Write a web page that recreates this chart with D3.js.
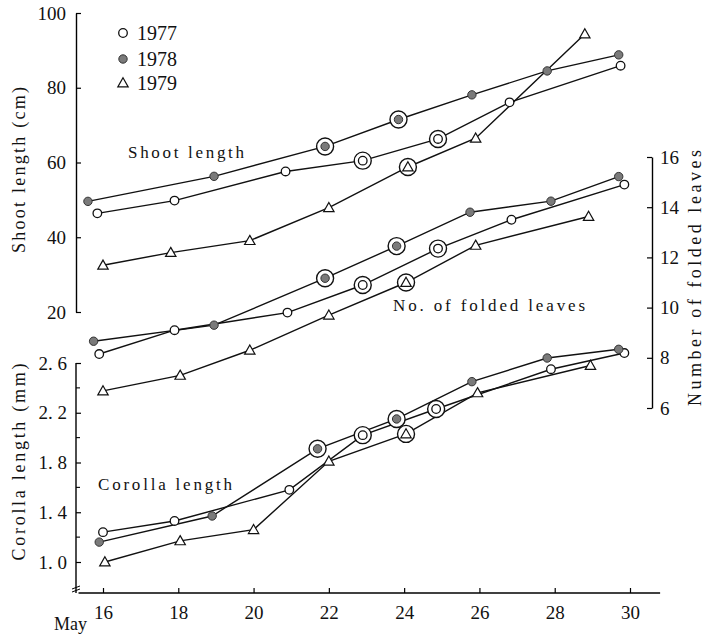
<!DOCTYPE html>
<html><head><meta charset="utf-8">
<script src="https://cdn.jsdelivr.net/npm/d3@7"></script>
<style>
body{margin:0;background:#fff;}
svg text{font-family:"Liberation Serif","Times New Roman",Times,"DejaVu Serif",serif !important;}
</style></head>
<body><svg id="c" width="708" height="637"></svg>
<script>
// ---- data ----
const years = ["1977", "1978", "1979"];
const xTicks = [16, 18, 20, 22, 24, 26, 28, 30];
const shootTicks = [20, 40, 60, 80, 100];
const leavesTicks = [6, 8, 10, 12, 14, 16];
const corollaTicks = [1.0, 1.4, 1.8, 2.2, 2.6];
const corollaMinorTicks = [1.2, 1.6, 2.0, 2.4];

// Shoot length (cm)
const shootDays1977 = [15.85, 17.9, 20.85, 22.9, 24.9, 26.8, 29.75];
const shoot1977 = [46.4, 49.8, 57.6, 60.5, 66.3, 76.1, 85.9];
const shootDays1978 = [15.6, 18.95, 21.9, 23.85, 25.8, 27.8, 29.7];
const shoot1978 = [49.6, 56.3, 64.3, 71.5, 78.1, 84.5, 88.8];
const shootDays1979 = [16.0, 17.8, 19.9, 22.0, 24.1, 25.9, 28.8];
const shoot1979 = [32.5, 35.9, 39.1, 47.9, 58.8, 66.5, 94.4];

// Number of folded leaves
const leavesDays1977 = [15.9, 17.9, 20.9, 22.9, 24.9, 26.85, 29.85];
const leaves1977 = [8.15, 9.1, 9.8, 10.9, 12.35, 13.5, 14.9];
const leavesDays1978 = [15.75, 18.95, 21.9, 23.8, 25.75, 27.9, 29.7];
const leaves1978 = [8.66, 9.3, 11.17, 12.45, 13.8, 14.24, 15.22];
const leavesDays1979 = [16.0, 18.05, 19.9, 22.0, 24.05, 25.9, 28.9];
const leaves1979 = [6.68, 7.3, 8.3, 9.7, 11.0, 12.48, 13.63];

// Corolla length (mm)
const corollaDays1977 = [16.0, 17.9, 20.95, 22.9, 24.85, 27.9, 29.85];
const corolla1977 = [1.24, 1.33, 1.58, 2.02, 2.23, 2.55, 2.68];
const corollaDays1978 = [15.9, 18.9, 21.7, 23.8, 25.8, 27.8, 29.7];
const corolla1978 = [1.16, 1.37, 1.91, 2.15, 2.45, 2.64, 2.71];
const corollaDays1979 = [16.05, 18.05, 20.0, 22.0, 24.05, 25.95, 28.95];
const corolla1979 = [1.0, 1.17, 1.26, 1.81, 2.03, 2.36, 2.58];

// circled (ringed) point indices per year
const ringed1977 = [3, 4];
const ringed1978 = [2, 3];
const ringed1979 = [4];

// ---- layout ----
const svg = d3.select("#c");
const x = d3.scaleLinear().domain([16, 30]).range([103, 630]);
const yShoot = d3.scaleLinear().domain([20, 100]).range([312, 13]);
const yLeaves = d3.scaleLinear().domain([6, 16]).range([408, 157]);
const yCorolla = d3.scaleLinear().domain([1.0, 2.6]).range([562, 363]);
const axisY = 593;
const leftX = 76, rightX = 652;
const tickFont = 19;

function styleAxis(g) {
  g.attr("font-family", null);
  g.selectAll("path.domain").attr("stroke", "#000").attr("stroke-width", 1.4);
  g.selectAll(".tick line").attr("stroke", "#000").attr("stroke-width", 1.2);
  g.selectAll(".tick text").attr("font-size", tickFont).attr("fill", "#111");
}

// Shoot axis (left top)
const gS = svg.append("g").attr("transform", `translate(${leftX},0)`)
  .call(d3.axisLeft(yShoot).tickValues(shootTicks).tickSize(-5).tickSizeOuter(0).tickPadding(10).tickFormat(d3.format("d")));
styleAxis(gS);

// Corolla axis (left bottom)
const gC = svg.append("g").attr("transform", `translate(${leftX},0)`)
  .call(d3.axisLeft(yCorolla).tickValues(corollaTicks).tickSize(-5).tickSizeOuter(0).tickPadding(9).tickFormat(d => d.toFixed(1).replace(".", ". ")));
styleAxis(gC);
gC.select("path.domain").remove();
svg.append("line").attr("x1", leftX).attr("x2", leftX).attr("y1", yCorolla(2.6)).attr("y2", axisY)
  .attr("stroke", "#000").attr("stroke-width", 1.4);
svg.append("g").selectAll("line").data(corollaMinorTicks).join("line")
  .attr("x1", leftX).attr("x2", leftX + 4).attr("y1", d => yCorolla(d)).attr("y2", d => yCorolla(d))
  .attr("stroke", "#000").attr("stroke-width", 1.1);
// axis break mark
svg.append("path").attr("d", `M${leftX-4},${axisY-4} l8,-3 M${leftX-4},${axisY-1} l8,-3`)
  .attr("stroke", "#000").attr("stroke-width", 1).attr("fill", "none");

// Leaves axis (right)
const gL = svg.append("g").attr("transform", `translate(${rightX},0)`)
  .call(d3.axisRight(yLeaves).tickValues(leavesTicks).tickSize(-5).tickSizeOuter(0).tickPadding(8).tickFormat(d3.format("d")));
styleAxis(gL);

// X axis
const gX = svg.append("g").attr("transform", `translate(0,${axisY})`)
  .call(d3.axisBottom(x).tickValues(xTicks).tickSize(-5).tickSizeOuter(0).tickPadding(13));
styleAxis(gX);
gX.select("path.domain").remove();
svg.append("line").attr("x1", x(15.35)).attr("x2", x(30.8)).attr("y1", axisY).attr("y2", axisY)
  .attr("stroke", "#000").attr("stroke-width", 1.4);

svg.append("text").attr("x", 54).attr("y", 630).attr("font-size", 18).attr("fill", "#111").text("May");

// axis titles
svg.append("text").attr("transform", "translate(25,170) rotate(-90)").attr("text-anchor", "middle")
  .attr("font-size", 18).attr("fill", "#111").attr("textLength", 166).attr("lengthAdjust", "spacing").text("Shoot length (cm)");
svg.append("text").attr("transform", "translate(25,462) rotate(-90)").attr("text-anchor", "middle")
  .attr("font-size", 18).attr("fill", "#111").attr("textLength", 197).attr("lengthAdjust", "spacing").text("Corolla length (mm)");
svg.append("text").attr("transform", "translate(701,278) rotate(-90)").attr("text-anchor", "middle")
  .attr("font-size", 18).attr("fill", "#111").attr("textLength", 256).attr("lengthAdjust", "spacing").text("Number of folded leaves");

// panel labels
svg.append("text").attr("x", 128).attr("y", 158).attr("font-size", 17).attr("fill", "#111")
  .attr("textLength", 116).attr("lengthAdjust", "spacing").text("Shoot length");
svg.append("text").attr("x", 393).attr("y", 311).attr("font-size", 17).attr("fill", "#111")
  .attr("textLength", 192).attr("lengthAdjust", "spacing").text("No. of folded leaves");
svg.append("text").attr("x", 98).attr("y", 490).attr("font-size", 17).attr("fill", "#111")
  .attr("textLength", 134).attr("lengthAdjust", "spacing").text("Corolla length");

// ---- series ----
const series = [
  {year: "1977", panel: "shoot", days: shootDays1977, vals: shoot1977, ring: ringed1977},
  {year: "1978", panel: "shoot", days: shootDays1978, vals: shoot1978, ring: ringed1978},
  {year: "1979", panel: "shoot", days: shootDays1979, vals: shoot1979, ring: ringed1979},
  {year: "1977", panel: "leaves", days: leavesDays1977, vals: leaves1977, ring: ringed1977},
  {year: "1978", panel: "leaves", days: leavesDays1978, vals: leaves1978, ring: ringed1978},
  {year: "1979", panel: "leaves", days: leavesDays1979, vals: leaves1979, ring: ringed1979},
  {year: "1977", panel: "corolla", days: corollaDays1977, vals: corolla1977, ring: ringed1977},
  {year: "1978", panel: "corolla", days: corollaDays1978, vals: corolla1978, ring: ringed1978},
  {year: "1979", panel: "corolla", days: corollaDays1979, vals: corolla1979, ring: ringed1979},
];
const yFor = {shoot: yShoot, leaves: yLeaves, corolla: yCorolla};

const lineG = svg.append("g");
const markG = svg.append("g");

function drawMarker(g, year, cx, cy) {
  if (year === "1977") {
    g.append("circle").attr("cx", cx).attr("cy", cy).attr("r", 4.3)
      .attr("fill", "#fff").attr("stroke", "#111").attr("stroke-width", 1.3);
  } else if (year === "1978") {
    g.append("circle").attr("cx", cx).attr("cy", cy).attr("r", 4.2)
      .attr("fill", "#7a7a7a").attr("stroke", "#333").attr("stroke-width", 1);
  } else {
    const s = 5.2;
    g.append("path").attr("d", `M${cx},${cy - s} L${cx + s},${cy + s * 0.75} L${cx - s},${cy + s * 0.75} Z`)
      .attr("fill", "#fff").attr("stroke", "#111").attr("stroke-width", 1.2);
  }
}

series.forEach(s => {
  const y = yFor[s.panel];
  const pts = s.days.map((d, i) => [x(d), y(s.vals[i])]);
  lineG.append("path").attr("d", d3.line()(pts))
    .attr("fill", "none").attr("stroke", "#111").attr("stroke-width", 1.4);
  pts.forEach((p, i) => {
    if (s.ring.includes(i)) {
      markG.append("circle").attr("cx", p[0]).attr("cy", p[1]).attr("r", 8.5)
        .attr("fill", "#fff").attr("stroke", "#111").attr("stroke-width", 1.4);
    }
    drawMarker(markG, s.year, p[0], p[1]);
  });
});

// legend
const legendY = [33, 59, 83];
const legG = svg.append("g");
years.forEach((yr, i) => {
  drawMarker(legG, yr, 123, legendY[i]);
  legG.append("text").attr("x", 137).attr("y", legendY[i] + 7).attr("font-size", 20).attr("fill", "#111").text(yr);
});
</script></body></html>
